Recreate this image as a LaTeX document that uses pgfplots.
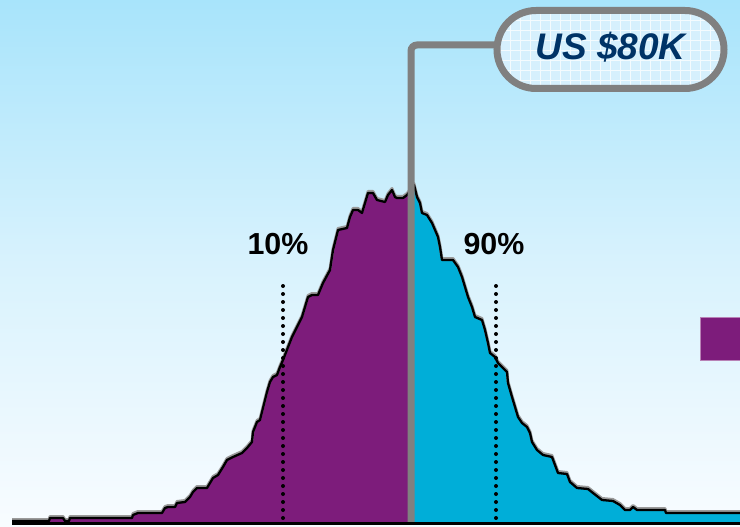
\documentclass[border=0pt]{standalone}
\usepackage{pgfplots}
\pgfplotsset{compat=1.18}
\usepackage{fontspec}
\setmainfont{Liberation Sans}
\definecolor{bgtop}{RGB}{168,228,251}
\definecolor{bgmid}{RGB}{216,242,253}
\definecolor{bgbot}{RGB}{248,252,255}
\definecolor{vio}{RGB}{125,28,123}
\definecolor{cyn}{RGB}{0,174,216}
\definecolor{gline}{RGB}{128,128,128}
\definecolor{navy}{RGB}{0,51,102}
\definecolor{boxfill}{RGB}{214,240,253}
\pgfdeclareverticalshading{bgshade}{100bp}{color(0bp)=(bgbot); color(25bp)=(bgbot); color(50bp)=(bgmid); color(75bp)=(bgtop); color(100bp)=(bgtop)}
\begin{document}
\begin{tikzpicture}
\useasboundingbox (0,0) rectangle (370pt,263pt);
\shade[shading=bgshade] (0,0) rectangle (370pt,263pt);
\begin{axis}[at={(0,0)}, anchor=south west, width=370pt, height=263pt, scale only axis,
  xmin=0, xmax=740, ymin=-4, ymax=522, hide axis, clip=false]
% left part (below median)
\addplot[fill=vio, draw=none] coordinates {
(12,1) (49,1) (50,4) (63,4) (65,1) (69,1) (70,4) (132,4) (133,7) (138,9) (162,9) (165,14) (168,15) (175,15) (177,19) (185,20) (190,25) (193,30) (197,34) (207,34) (210,39) (213,44) (218,47) (223,55) (227,62) (233,65) (242,69) (247,74) (252,80) (253,90) (257,100) (260,102) (262,110) (265,122) (267,130) (270,140) (273,145) (277,147) (280,155) (283,162) (292,185) (297,195) (302,205) (308,225) (312,227) (318,227) (323,239) (330,252) (333,272) (338,292) (347,294) (350,305) (353,312) (358,312) (362,309) (365,319) (368,329) (373,329) (377,322) (385,320) (388,327) (392,332) (395,325) (397,324) (403,324) (407,327) (411,332)
} \closedcycle;
% right part (above median)
\addplot[fill=cyn, draw=none] coordinates {
(411,332) (414,337) (417,325) (420,319) (422,309) (427,307) (432,299) (435,292) (438,285) (440,275) (442,262) (453,262) (458,255) (462,245) (465,235) (468,225) (472,215) (475,205) (482,202) (485,192) (488,179) (490,169) (495,165) (498,159) (503,154) (507,150) (508,139) (512,125) (515,115) (518,105) (522,99) (527,95) (530,89) (532,80) (537,72) (543,67) (552,65) (555,57) (558,49) (567,48) (570,40) (577,34) (588,33) (593,29) (602,22) (613,21) (620,17) (625,12) (630,12) (633,15) (637,12) (665,12) (666,9) (740,9)
} \closedcycle;
% outline (shadow + line)
\addplot[gline!80!white, line width=1.4pt, yshift=0.8pt, line join=round] coordinates {
(12,1) (49,1) (50,4) (63,4) (65,1) (69,1) (70,4) (132,4) (133,7) (138,9) (162,9) (165,14) (168,15) (175,15) (177,19) (185,20) (190,25) (193,30) (197,34) (207,34) (210,39) (213,44) (218,47) (223,55) (227,62) (233,65) (242,69) (247,74) (252,80) (253,90) (257,100) (260,102) (262,110) (265,122) (267,130) (270,140) (273,145) (277,147) (280,155) (283,162) (292,185) (297,195) (302,205) (308,225) (312,227) (318,227) (323,239) (330,252) (333,272) (338,292) (347,294) (350,305) (353,312) (358,312) (362,309) (365,319) (368,329) (373,329) (377,322) (385,320) (388,327) (392,332) (395,325) (397,324) (403,324) (407,327) (411,332)
(414,337) (417,325) (420,319) (422,309) (427,307) (432,299) (435,292) (438,285) (440,275) (442,262) (453,262) (458,255) (462,245) (465,235) (468,225) (472,215) (475,205) (482,202) (485,192) (488,179) (490,169) (495,165) (498,159) (503,154) (507,150) (508,139) (512,125) (515,115) (518,105) (522,99) (527,95) (530,89) (532,80) (537,72) (543,67) (552,65) (555,57) (558,49) (567,48) (570,40) (577,34) (588,33) (593,29) (602,22) (613,21) (620,17) (625,12) (630,12) (633,15) (637,12) (665,12) (666,9) (740,9)
};
\addplot[black, line width=1.15pt, line join=round] coordinates {
(12,1) (49,1) (50,4) (63,4) (65,1) (69,1) (70,4) (132,4) (133,7) (138,9) (162,9) (165,14) (168,15) (175,15) (177,19) (185,20) (190,25) (193,30) (197,34) (207,34) (210,39) (213,44) (218,47) (223,55) (227,62) (233,65) (242,69) (247,74) (252,80) (253,90) (257,100) (260,102) (262,110) (265,122) (267,130) (270,140) (273,145) (277,147) (280,155) (283,162) (292,185) (297,195) (302,205) (308,225) (312,227) (318,227) (323,239) (330,252) (333,272) (338,292) (347,294) (350,305) (353,312) (358,312) (362,309) (365,319) (368,329) (373,329) (377,322) (385,320) (388,327) (392,332) (395,325) (397,324) (403,324) (407,327) (411,332)
(414,337) (417,325) (420,319) (422,309) (427,307) (432,299) (435,292) (438,285) (440,275) (442,262) (453,262) (458,255) (462,245) (465,235) (468,225) (472,215) (475,205) (482,202) (485,192) (488,179) (490,169) (495,165) (498,159) (503,154) (507,150) (508,139) (512,125) (515,115) (518,105) (522,99) (527,95) (530,89) (532,80) (537,72) (543,67) (552,65) (555,57) (558,49) (567,48) (570,40) (577,34) (588,33) (593,29) (602,22) (613,21) (620,17) (625,12) (630,12) (633,15) (637,12) (665,12) (666,9) (740,9)
};
% percentile markers
\addplot[black, line width=2pt, line cap=round, dash pattern=on 0pt off 4pt] coordinates {(283,4) (283,237)};
\addplot[black, line width=2pt, line cap=round, dash pattern=on 0pt off 4pt] coordinates {(496,4) (496,237)};
\node[font=\fontsize{15.2pt}{18pt}\selectfont\bfseries] at (axis cs:278,278) {10\%};
\node[font=\fontsize{15.2pt}{18pt}\selectfont\bfseries] at (axis cs:494,278) {90\%};
\end{axis}
% decorations in pixel coordinates (origin top-left)
\begin{scope}[x=0.5pt, y=-0.5pt, yshift=263pt]
% median connector
\draw[gline, line width=3.5pt, rounded corners=3pt] (411,522) -- (411,45) -- (500,45);
% callout box
\begin{scope}
\clip[rounded corners=19.5pt] (497,10.5) rectangle (724,88.5);
\fill[boxfill] (490,5) rectangle (730,95);
\draw[white, opacity=0.75, line width=0.4pt, step=5pt] (490,5) grid (730,95);
\end{scope}
\draw[gline, line width=3.5pt, rounded corners=19.5pt] (497,10.5) rectangle (724,88.5);
\node[font=\fontsize{18.5pt}{22pt}\selectfont\bfseries\itshape, text=navy] at (610.5,47) {US \$80K};
% baseline
\draw[black, line width=1.5pt] (12,523.5) -- (740,523.5);
% purple square at the right edge
\fill[vio] (700,317) rectangle (740,361);
\draw[vio!55!white, line width=0.5pt] (740,317.5) -- (700.5,317.5) -- (700.5,360.5) -- (740,360.5);
\end{scope}
\end{tikzpicture}
\end{document}
